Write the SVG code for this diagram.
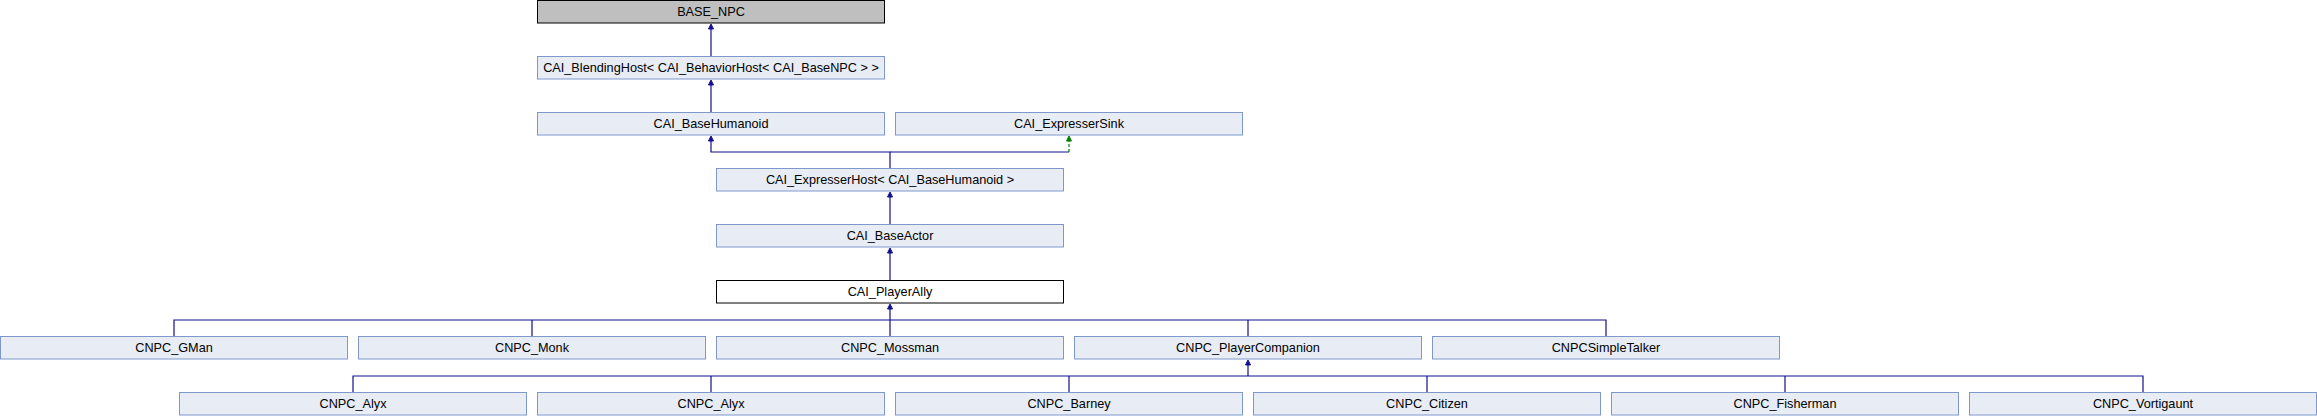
<svg xmlns="http://www.w3.org/2000/svg" width="2317" height="416" viewBox="0 0 2317 416">
<style>
.n rect{fill:#e8ecf5;stroke:#7f98cc;stroke-width:1}
.g rect{fill:#bfbfbf;stroke:#000;stroke-width:1}
.w rect{fill:#ffffff;stroke:#000;stroke-width:1}
text{font-family:"Liberation Sans",Arial,sans-serif;font-size:12.7px;fill:#000;text-anchor:middle}
.e{fill:none;stroke:#10108c;stroke-width:1.2}
.p{fill:none;stroke:#008000;stroke-width:1.2;stroke-dasharray:3,2}
.ah{fill:#10108c;stroke:#10108c;stroke-width:1}
.ag{fill:#008000;stroke:#008000;stroke-width:1}
</style>
<rect width="2317" height="416" fill="#ffffff"/>
<g id="connectors">
<path class="e" d="M711,56.5V29"/>
<polygon class="ah" points="711,24 708.5,29 713.5,29"/>
<path class="e" d="M711,112.5V85"/>
<polygon class="ah" points="711,80 708.5,85 713.5,85"/>
<path class="e" d="M890,168.5V152H711V141"/>
<polygon class="ah" points="711,136 708.5,141 713.5,141"/>
<path class="e" d="M890,152H1069"/>
<path class="p" d="M1069,152V141"/>
<polygon class="ag" points="1069,136 1066.5,141 1071.5,141"/>
<path class="e" d="M890,224.5V197"/>
<polygon class="ah" points="890,192 887.5,197 892.5,197"/>
<path class="e" d="M890,280.5V253"/>
<polygon class="ah" points="890,248 887.5,253 892.5,253"/>
<path class="e" d="M890,320V309M174,336.5V320H1606V336.5M532,320V336.5M890,320V336.5M1248,320V336.5"/>
<polygon class="ah" points="890,304 887.5,309 892.5,309"/>
<path class="e" d="M1248,376V365M353,392.5V376H2143V392.5M711,376V392.5M1069,376V392.5M1427,376V392.5M1785,376V392.5"/>
<polygon class="ah" points="1248,360 1245.5,365 1250.5,365"/>
</g>
<g id="BASE_NPC" class="g"><rect x="537.5" y="0.5" width="347" height="22.5"/><text x="711" y="16">BASE_NPC</text></g>
<g id="CAI_BlendingHost" class="n"><rect x="537.5" y="56.5" width="347" height="22.5"/><text x="711" y="72">CAI_BlendingHost&lt; CAI_BehaviorHost&lt; CAI_BaseNPC &gt; &gt;</text></g>
<g id="CAI_BaseHumanoid" class="n"><rect x="537.5" y="112.5" width="347" height="22.5"/><text x="711" y="128">CAI_BaseHumanoid</text></g>
<g id="CAI_ExpresserSink" class="n"><rect x="895.5" y="112.5" width="347" height="22.5"/><text x="1069" y="128">CAI_ExpresserSink</text></g>
<g id="CAI_ExpresserHost" class="n"><rect x="716.5" y="168.5" width="347" height="22.5"/><text x="890" y="184">CAI_ExpresserHost&lt; CAI_BaseHumanoid &gt;</text></g>
<g id="CAI_BaseActor" class="n"><rect x="716.5" y="224.5" width="347" height="22.5"/><text x="890" y="240">CAI_BaseActor</text></g>
<g id="CAI_PlayerAlly" class="w"><rect x="716.5" y="280.5" width="347" height="22.5"/><text x="890" y="296">CAI_PlayerAlly</text></g>
<g id="CNPC_GMan" class="n"><rect x="0.5" y="336.5" width="347" height="22.5"/><text x="174" y="352">CNPC_GMan</text></g>
<g id="CNPC_Monk" class="n"><rect x="358.5" y="336.5" width="347" height="22.5"/><text x="532" y="352">CNPC_Monk</text></g>
<g id="CNPC_Mossman" class="n"><rect x="716.5" y="336.5" width="347" height="22.5"/><text x="890" y="352">CNPC_Mossman</text></g>
<g id="CNPC_PlayerCompanion" class="n"><rect x="1074.5" y="336.5" width="347" height="22.5"/><text x="1248" y="352">CNPC_PlayerCompanion</text></g>
<g id="CNPCSimpleTalker" class="n"><rect x="1432.5" y="336.5" width="347" height="22.5"/><text x="1606" y="352">CNPCSimpleTalker</text></g>
<g id="CNPC_Alyx_1" class="n"><rect x="179.5" y="392.5" width="347" height="22.5"/><text x="353" y="408">CNPC_Alyx</text></g>
<g id="CNPC_Alyx_2" class="n"><rect x="537.5" y="392.5" width="347" height="22.5"/><text x="711" y="408">CNPC_Alyx</text></g>
<g id="CNPC_Barney" class="n"><rect x="895.5" y="392.5" width="347" height="22.5"/><text x="1069" y="408">CNPC_Barney</text></g>
<g id="CNPC_Citizen" class="n"><rect x="1253.5" y="392.5" width="347" height="22.5"/><text x="1427" y="408">CNPC_Citizen</text></g>
<g id="CNPC_Fisherman" class="n"><rect x="1611.5" y="392.5" width="347" height="22.5"/><text x="1785" y="408">CNPC_Fisherman</text></g>
<g id="CNPC_Vortigaunt" class="n"><rect x="1969.5" y="392.5" width="347" height="22.5"/><text x="2143" y="408">CNPC_Vortigaunt</text></g>
</svg>
